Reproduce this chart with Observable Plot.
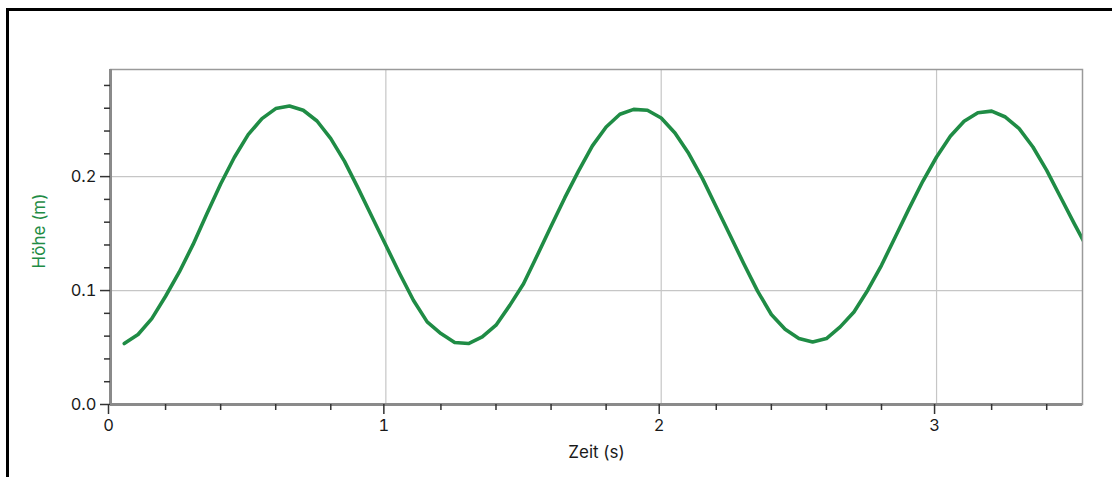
<!DOCTYPE html>
<html>
<head>
<meta charset="utf-8">
<script src="https://cdn.jsdelivr.net/npm/d3@7"></script>
<script src="https://cdn.jsdelivr.net/npm/@observablehq/plot@0.6"></script>
<style>
  html, body { margin: 0; padding: 0; background: #fff; overflow: hidden; }
  #wrap { position: relative; width: 1112px; height: 477px; }
  #border { position: absolute; left: 6px; top: 8px; width: 2000px; height: 2000px;
            border-left: 3px solid #000; border-top: 3px solid #000; box-sizing: border-box; }
  #chart { position: absolute; left: 0; top: 0; }
  #chart svg text { font-family: Inter, Roboto, sans-serif; }
</style>
</head>
<body>
<div id="wrap"><div id="border"></div><div id="chart"></div></div>
<script>
// Zeit (s)
const zeit = [0.05,0.10,0.15,0.20,0.25,0.30,0.35,0.40,0.45,0.50,
              0.55,0.60,0.65,0.70,0.75,0.80,0.85,0.90,0.95,1.00,
              1.05,1.10,1.15,1.20,1.25,1.30,1.35,1.40,1.45,1.50,
              1.55,1.60,1.65,1.70,1.75,1.80,1.85,1.90,1.95,2.00,
              2.05,2.10,2.15,2.20,2.25,2.30,2.35,2.40,2.45,2.50,
              2.55,2.60,2.65,2.70,2.75,2.80,2.85,2.90,2.95,3.00,
              3.05,3.10,3.15,3.20,3.25,3.30,3.35,3.40,3.45,3.50,3.55];
// Höhe (m)
const hoehe = [0.0535,0.0614,0.0754,0.0950,0.1163,0.1405,0.1675,0.1935,0.2170,0.2368,
               0.2509,0.2597,0.2619,0.2582,0.2488,0.2333,0.2134,0.1895,0.1646,0.1397,
               0.1150,0.0915,0.0725,0.0623,0.0544,0.0535,0.0593,0.0696,0.0870,0.1060,
               0.1310,0.1565,0.1815,0.2050,0.2270,0.2435,0.2547,0.2590,0.2582,0.2514,
               0.2383,0.2202,0.1982,0.1733,0.1485,0.1235,0.0995,0.0790,0.0660,0.0579,
               0.0549,0.0579,0.0681,0.0812,0.1003,0.1222,0.1470,0.1719,0.1959,0.2172,
               0.2354,0.2485,0.2561,0.2575,0.2523,0.2421,0.2260,0.2055,0.1821,0.1588,0.1360];

const xMajorTicks = [0, 1, 2, 3];
const xMinorTicks = [0.2,0.4,0.6,0.8,1.2,1.4,1.6,1.8,2.2,2.4,2.6,2.8,3.2,3.4];
const yMajorTicks = [0.0, 0.1, 0.2];
const yMinorTicks = [0.02,0.04,0.06,0.08,0.12,0.14,0.16,0.18,0.22,0.24,0.26,0.28];
const xDomain = [0, 3.53];
const yDomain = [0, 0.294];

const data = zeit.map((t, i) => ({t, h: hoehe[i]}));
const green = "#1f8c45";
const font = "Inter, Roboto, sans-serif";

const chart = Plot.plot({
  width: 1112,
  height: 477,
  marginLeft: 110,
  marginRight: 30,
  marginTop: 69,
  marginBottom: 73,
  style: {fontFamily: font, fontSize: "16px", color: "#1a1a1a", background: "transparent"},
  x: {domain: xDomain},
  y: {domain: yDomain},
  marks: [
    Plot.gridX([1, 2, 3], {stroke: "#c6c6c6", strokeOpacity: 1, strokeWidth: 1.2}),
    Plot.gridY([0.1, 0.2], {stroke: "#c6c6c6", strokeOpacity: 1, strokeWidth: 1.2}),
    Plot.line(data, {x: "t", y: "h", stroke: green, strokeWidth: 3.6, clip: true}),
    Plot.frame({stroke: "#9a9a9a", strokeWidth: 1.5}),
    Plot.ruleX([0], {stroke: "#8a8a8a", strokeWidth: 3}),
    Plot.ruleY([0], {stroke: "#8a8a8a", strokeWidth: 3}),
    Plot.axisX(xMajorTicks, {tickSize: 10, tickPadding: 5, stroke: "#333", strokeWidth: 1.5,
      tickFormat: d => String(d), dx: -2, label: null, fontSize: 16.5}),
    Plot.axisX(xMinorTicks, {tickSize: 6, stroke: "#333", strokeWidth: 1.5, tickFormat: () => "", label: null}),
    Plot.axisY(yMajorTicks, {tickSize: 10, tickPadding: 4, stroke: "#333", strokeWidth: 1.5,
      tickFormat: d3.format(".1f"), label: null, fontSize: 16.5}),
    Plot.axisY(yMinorTicks, {tickSize: 6, stroke: "#333", strokeWidth: 1.5, tickFormat: () => "", label: null}),
    Plot.text(["Zeit (s)"], {frameAnchor: "bottom", lineAnchor: "middle", textAnchor: "middle",
      dy: 48, fontSize: 17, fill: "#1a1a1a"}),
    Plot.text(["Höhe (m)"], {frameAnchor: "left", lineAnchor: "middle", textAnchor: "middle",
      dx: -71, dy: -6, rotate: -90, fontSize: 17, fill: green})
  ]
});
document.getElementById("chart").appendChild(chart);
</script>
</body>
</html>
